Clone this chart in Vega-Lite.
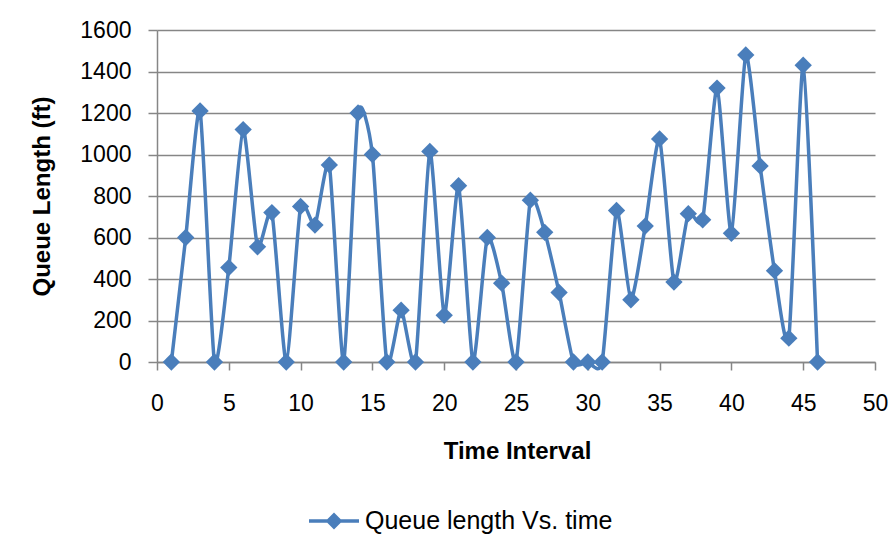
{
  "$schema": "https://vega.github.io/schema/vega-lite/v6.json",
  "autosize": {"type": "none"},
  "width": 718,
  "height": 332,
  "padding": {"left": 157, "top": 30, "right": 16, "bottom": 193},
  "background": "white",
  "config": {
    "font": "Liberation Sans",
    "view": {"stroke": null},
    "axis": {
      "labelFont": "Liberation Sans",
      "titleFont": "Liberation Sans",
      "labelColor": "#000000",
      "titleColor": "#000000",
      "domainColor": "#868686",
      "domainWidth": 1.5,
      "tickColor": "#868686",
      "tickWidth": 1.5,
      "gridColor": "#868686",
      "gridWidth": 1.5
    }
  },
  "data": {
    "values": [
      {"t": 1, "q": 0, "series": "Queue length Vs. time"},
      {"t": 2, "q": 600, "series": "Queue length Vs. time"},
      {"t": 3, "q": 1210, "series": "Queue length Vs. time"},
      {"t": 4, "q": 0, "series": "Queue length Vs. time"},
      {"t": 5, "q": 455, "series": "Queue length Vs. time"},
      {"t": 6, "q": 1120, "series": "Queue length Vs. time"},
      {"t": 7, "q": 555, "series": "Queue length Vs. time"},
      {"t": 8, "q": 720, "series": "Queue length Vs. time"},
      {"t": 9, "q": 0, "series": "Queue length Vs. time"},
      {"t": 10, "q": 750, "series": "Queue length Vs. time"},
      {"t": 11, "q": 660, "series": "Queue length Vs. time"},
      {"t": 12, "q": 950, "series": "Queue length Vs. time"},
      {"t": 13, "q": 0, "series": "Queue length Vs. time"},
      {"t": 14, "q": 1200, "series": "Queue length Vs. time"},
      {"t": 15, "q": 1000, "series": "Queue length Vs. time"},
      {"t": 16, "q": 0, "series": "Queue length Vs. time"},
      {"t": 17, "q": 250, "series": "Queue length Vs. time"},
      {"t": 18, "q": 0, "series": "Queue length Vs. time"},
      {"t": 19, "q": 1015, "series": "Queue length Vs. time"},
      {"t": 20, "q": 225, "series": "Queue length Vs. time"},
      {"t": 21, "q": 850, "series": "Queue length Vs. time"},
      {"t": 22, "q": 0, "series": "Queue length Vs. time"},
      {"t": 23, "q": 600, "series": "Queue length Vs. time"},
      {"t": 24, "q": 380, "series": "Queue length Vs. time"},
      {"t": 25, "q": 0, "series": "Queue length Vs. time"},
      {"t": 26, "q": 780, "series": "Queue length Vs. time"},
      {"t": 27, "q": 625, "series": "Queue length Vs. time"},
      {"t": 28, "q": 335, "series": "Queue length Vs. time"},
      {"t": 29, "q": 0, "series": "Queue length Vs. time"},
      {"t": 30, "q": 0, "series": "Queue length Vs. time"},
      {"t": 31, "q": 0, "series": "Queue length Vs. time"},
      {"t": 32, "q": 730, "series": "Queue length Vs. time"},
      {"t": 33, "q": 300, "series": "Queue length Vs. time"},
      {"t": 34, "q": 655, "series": "Queue length Vs. time"},
      {"t": 35, "q": 1075, "series": "Queue length Vs. time"},
      {"t": 36, "q": 385, "series": "Queue length Vs. time"},
      {"t": 37, "q": 715, "series": "Queue length Vs. time"},
      {"t": 38, "q": 685, "series": "Queue length Vs. time"},
      {"t": 39, "q": 1320, "series": "Queue length Vs. time"},
      {"t": 40, "q": 620, "series": "Queue length Vs. time"},
      {"t": 41, "q": 1480, "series": "Queue length Vs. time"},
      {"t": 42, "q": 945, "series": "Queue length Vs. time"},
      {"t": 43, "q": 440, "series": "Queue length Vs. time"},
      {"t": 44, "q": 115, "series": "Queue length Vs. time"},
      {"t": 45, "q": 1430, "series": "Queue length Vs. time"},
      {"t": 46, "q": 0, "series": "Queue length Vs. time"}
    ]
  },
  "encoding": {
    "x": {
      "field": "t",
      "type": "quantitative",
      "scale": {"domain": [0, 50], "nice": false, "zero": false},
      "axis": {
        "title": "Time Interval",
        "values": [0, 5, 10, 15, 20, 25, 30, 35, 40, 45, 50],
        "format": "d",
        "grid": false,
        "tickSize": 8,
        "labelFontSize": 23,
        "labelPadding": 22,
        "labelFlush": false,
        "titleFontSize": 24,
        "titleFontWeight": "bold",
        "titleX": 360,
        "titleY": 89,
        "titleBaseline": "middle",
        "titleAlign": "center"
      }
    },
    "y": {
      "field": "q",
      "type": "quantitative",
      "scale": {"domain": [0, 1600], "nice": false},
      "axis": {
        "title": "Queue Length (ft)",
        "values": [0, 200, 400, 600, 800, 1000, 1200, 1400, 1600],
        "format": "d",
        "grid": true,
        "tickSize": 9,
        "labelFontSize": 23,
        "labelPadding": 17,
        "labelFlush": false,
        "titleFontSize": 24,
        "titleFontWeight": "bold",
        "titleAngle": -90,
        "titleX": -115,
        "titleY": 166,
        "titleAlign": "center",
        "titleBaseline": "middle"
      }
    },
    "color": {
      "field": "series",
      "type": "nominal",
      "scale": {"range": ["#4A7EBB"]},
      "legend": {
        "title": null,
        "orient": "none",
        "legendX": 150,
        "legendY": 464,
        "padding": 0,
        "symbolType": "M-1,0H1M-0.24,0L0,-0.24L0.24,0L0,0.24Z",
        "symbolSize": 2500,
        "labelFontSize": 25,
        "labelFont": "Liberation Sans",
        "labelColor": "#000000",
        "labelOffset": 4,
        "labelLimit": 500,
        "encode": {
          "symbols": {
            "update": {
              "fill": {"value": "#4A7EBB"},
              "stroke": {"value": "#4A7EBB"},
              "strokeWidth": {"value": 3.5},
              "opacity": {"value": 1}
            }
          }
        }
      }
    }
  },
  "layer": [
    {
      "mark": {
        "type": "line",
        "interpolate": "cardinal",
        "tension": 0.4,
        "strokeWidth": 3.5,
        "clip": false
      }
    },
    {
      "mark": {
        "type": "point",
        "shape": "diamond",
        "filled": true,
        "opacity": 1,
        "size": 300,
        "clip": false
      }
    }
  ]
}
